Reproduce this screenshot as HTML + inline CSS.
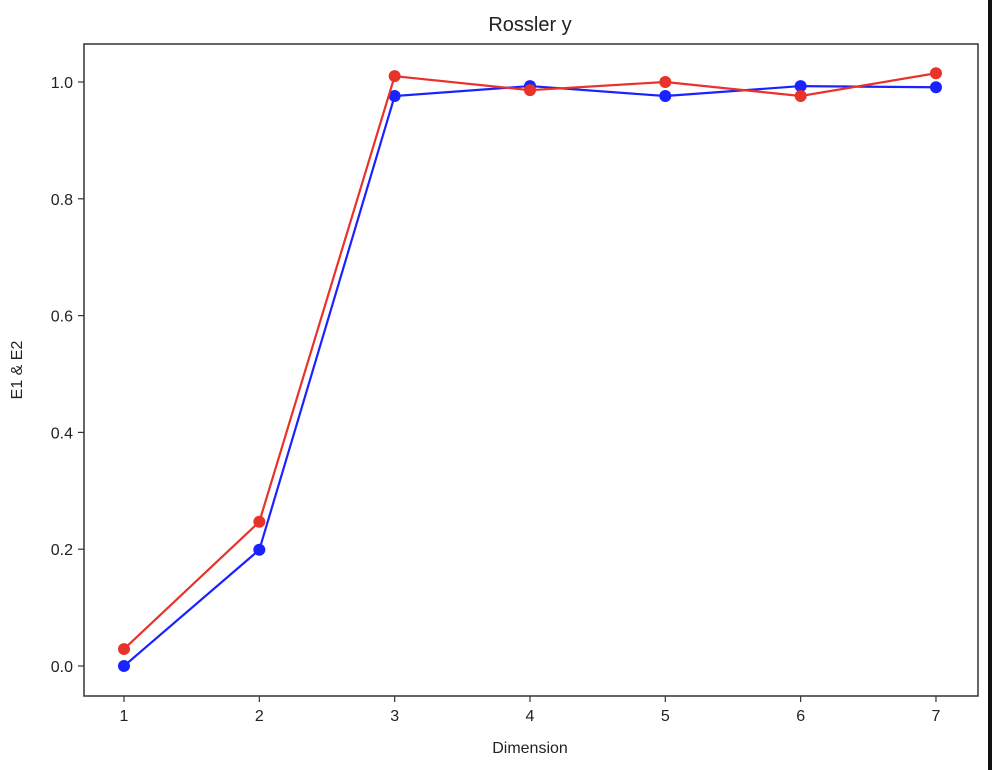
<!DOCTYPE html>
<html><head><meta charset="utf-8"><style>
html,body{margin:0;padding:0;background:#fff;}
svg{display:block;font-family:"Liberation Sans","DejaVu Sans",sans-serif;}
</style></head><body>
<svg id="chart" width="992" height="770" viewBox="0 0 992 770">
<rect x="0" y="0" width="992" height="770" fill="#fff"/>
<rect x="988" y="0" width="4" height="770" fill="#111"/>
<text x="530" y="31" text-anchor="middle" font-size="20" fill="#222">Rossler y</text>
<text x="530" y="753" text-anchor="middle" font-size="16" fill="#222">Dimension</text>
<text transform="translate(22,370) rotate(-90)" text-anchor="middle" font-size="16" fill="#222">E1 &amp; E2</text>
<g id="ticks"></g>
<g id="series"></g>
<rect x="84" y="44" width="894" height="652" fill="none" stroke="#333" stroke-width="1.5"/>
</svg>
<script>
const dims = [1,2,3,4,5,6,7];
const e1 = [0.0,0.199,0.976,0.993,0.976,0.993,0.991];
const e2 = [0.029,0.247,1.010,0.986,1.000,0.976,1.015];
const yTicks = [0.0,0.2,0.4,0.6,0.8,1.0];
const yTickLabels = ["0.0","0.2","0.4","0.6","0.8","1.0"];
const NS="http://www.w3.org/2000/svg";
function xs(v){return 124+(v-1)*135.33;}
function ys(v){return 666-v*584;}
const tg=document.getElementById('ticks');
function mk(tag,attrs,parent){const e=document.createElementNS(NS,tag);for(const k in attrs)e.setAttribute(k,attrs[k]);parent.appendChild(e);return e;}
dims.forEach(d=>{
  const l=mk('line',{x1:xs(d),x2:xs(d),y1:696,y2:702,stroke:'#333','stroke-width':1.2},tg);
  
  
  const t=mk('text',{x:xs(d),y:721,'text-anchor':'middle','font-size':16,fill:'#222'},tg);
  t.textContent=d;
  
  
});
yTicks.forEach((v,i)=>{
  const l=mk('line',{x1:78,x2:84,y1:ys(v),y2:ys(v),stroke:'#333','stroke-width':1.2},tg);
  
  
  const t=mk('text',{x:73,y:ys(v)+6,'text-anchor':'end','font-size':16,fill:'#222'},tg);
  t.textContent=yTickLabels[i];
  
  
});
const sg=document.getElementById('series');
function series(vals,color,name){
  const p=mk('polyline',{points:vals.map((v,i)=>xs(dims[i])+','+ys(v)).join(' '),fill:'none',stroke:color,'stroke-width':2.2},sg);
  
  
  vals.forEach((v,i)=>{
    const c=mk('circle',{cx:xs(dims[i]),cy:ys(v),r:6,fill:color},sg);
    
    
  });
}
series(e1,'#1a22ff','e1');
series(e2,'#e8322a','e2');
</script>
</body></html>
